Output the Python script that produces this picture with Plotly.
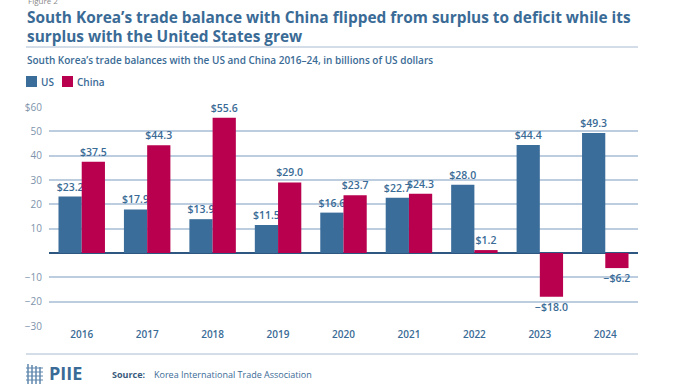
import plotly.graph_objects as go

years = ["2016", "2017", "2018", "2019", "2020", "2021", "2022", "2023", "2024"]
us_balance = [23.2, 17.9, 13.9, 11.5, 16.6, 22.7, 28.0, 44.4, 49.3]
china_balance = [37.5, 44.3, 55.6, 29.0, 23.7, 24.3, 1.2, -18.0, -6.2]
y_tickvals = [-30, -20, -10, 10, 20, 30, 40, 50, 60]
y_ticktext = ["\u221230", "\u221220", "\u221210", "10", "20", "30", "40", "50", "$60"]
series_names = ["US", "China"]

US_COLOR = "#3b6d9a"
CN_COLOR = "#b8004e"
TEXT_BLUE = "#3a6b96"
TICK_GREY = "#7d93ab"
FONT = "Open Sans"

W, H = 695, 392
L, R, T, B = 49, 638, 107, 326


def fmt(v):
    return ("\u2212$" if v < 0 else "$") + f"{abs(v):.1f}"


def px(x):
    return (x - L) / (R - L)


def py(y):
    return (B - y) / (B - T)


fig = go.Figure()
for name, vals, col in [(series_names[0], us_balance, US_COLOR), (series_names[1], china_balance, CN_COLOR)]:
    fig.add_trace(go.Bar(
        x=years, y=vals, name=name, marker=dict(color=col, line=dict(width=0)),
        text=[fmt(v) for v in vals], textposition="outside", constraintext="none",
        textfont=dict(color=TEXT_BLUE, size=10.5, family=FONT, weight=600), cliponaxis=False,
    ))

fig.update_layout(
    width=W, height=H,
    margin=dict(l=L, r=W - R, t=T, b=H - B, autoexpand=False),
    paper_bgcolor="white", plot_bgcolor="white",
    barmode="group", bargap=0.29, bargroupgap=0,
    font=dict(family=FONT, color=TEXT_BLUE),
    showlegend=False,
    xaxis=dict(showgrid=False, showline=False, ticks="",
               tickfont=dict(size=10, color=TEXT_BLUE, family=FONT, weight=600),
               ticklabelstandoff=1),
    yaxis=dict(range=[-30, 60], tickvals=y_tickvals, ticktext=y_ticktext,
               showgrid=True, gridcolor="#bccde0", gridwidth=1.5, zeroline=True,
               zerolinecolor="#2d5680", zerolinewidth=1.5, ticks="",
               tickfont=dict(size=10, color=TICK_GREY, family=FONT), ticklabelstandoff=6),
)

# legend (manual)
legend_items = [(series_names[0], US_COLOR, 26), (series_names[1], CN_COLOR, 62)]
for name, col, x0 in legend_items:
    fig.add_shape(type="rect", xref="paper", yref="paper", x0=px(x0), x1=px(x0 + 11),
                  y0=py(76), y1=py(87), fillcolor=col, line=dict(width=0))
    fig.add_annotation(x=px(x0 + 13), y=py(81.5), xref="paper", yref="paper", xanchor="left",
                       yanchor="middle", text=name, showarrow=False,
                       font=dict(size=10, color=TEXT_BLUE, family=FONT, weight=600))

# title block
fig.add_annotation(x=px(26), y=py(0), xref="paper", yref="paper", xanchor="left", yanchor="middle",
                   text="Figure 2", showarrow=False, font=dict(size=8, color="#888888", family=FONT))
title_lines = ["South Korea\u2019s trade balance with China flipped from surplus to deficit while its",
               "surplus with the United States grew"]
for line, yy in zip(title_lines, [17.5, 36.5]):
    fig.add_annotation(x=px(25), y=py(yy), xref="paper", yref="paper", xanchor="left", yanchor="middle",
                       text=f"<b>{line}</b>", showarrow=False, align="left",
                       font=dict(size=15.4, color="#3a6b96", family=FONT))
fig.add_shape(type="line", xref="paper", yref="paper", x0=px(26), x1=px(638), y0=py(47), y1=py(47),
              line=dict(color="#a9bcd0", width=1))
fig.add_annotation(x=px(25), y=py(60), xref="paper", yref="paper", xanchor="left", yanchor="middle",
                   text="South Korea\u2019s trade balances with the US and China 2016\u201324, in billions of US dollars",
                   showarrow=False, font=dict(size=10, color="#3a6b96", family=FONT, weight=600))

# footer
fig.add_shape(type="line", xref="paper", yref="paper", x0=px(26), x1=px(638), y0=py(354), y1=py(354),
              line=dict(color="#a9bcd0", width=1))
fig.add_annotation(x=px(47), y=py(373), xref="paper", yref="paper", xanchor="left", yanchor="middle",
                   text="<b>PIIE</b>", showarrow=False, font=dict(size=18, color="#3a6b96", family=FONT))
for i in range(4):
    fig.add_shape(type="line", xref="paper", yref="paper", x0=px(28 + i * 4), x1=px(28 + i * 4),
                  y0=py(364 + i), y1=py(384), line=dict(color="#5f86ad", width=1.5))
for j in range(4):
    fig.add_shape(type="line", xref="paper", yref="paper", x0=px(26), x1=px(43),
                  y0=py(368 + j * 4), y1=py(368 + j * 4), line=dict(color="#5f86ad", width=1))
fig.add_annotation(x=px(110), y=py(374), xref="paper", yref="paper", xanchor="left", yanchor="middle",
                   text="<b>Source:</b>", showarrow=False, font=dict(size=9, color="#3a5a7c", family=FONT))
fig.add_annotation(x=px(152), y=py(374), xref="paper", yref="paper", xanchor="left", yanchor="middle",
                   text="Korea International Trade Association", showarrow=False,
                   font=dict(size=9, color="#3a6b96", family=FONT))

fig.write_html("out.html", config={"displayModeBar": False},
               post_script="document.body.style.margin='0';document.body.style.overflow='hidden';")
